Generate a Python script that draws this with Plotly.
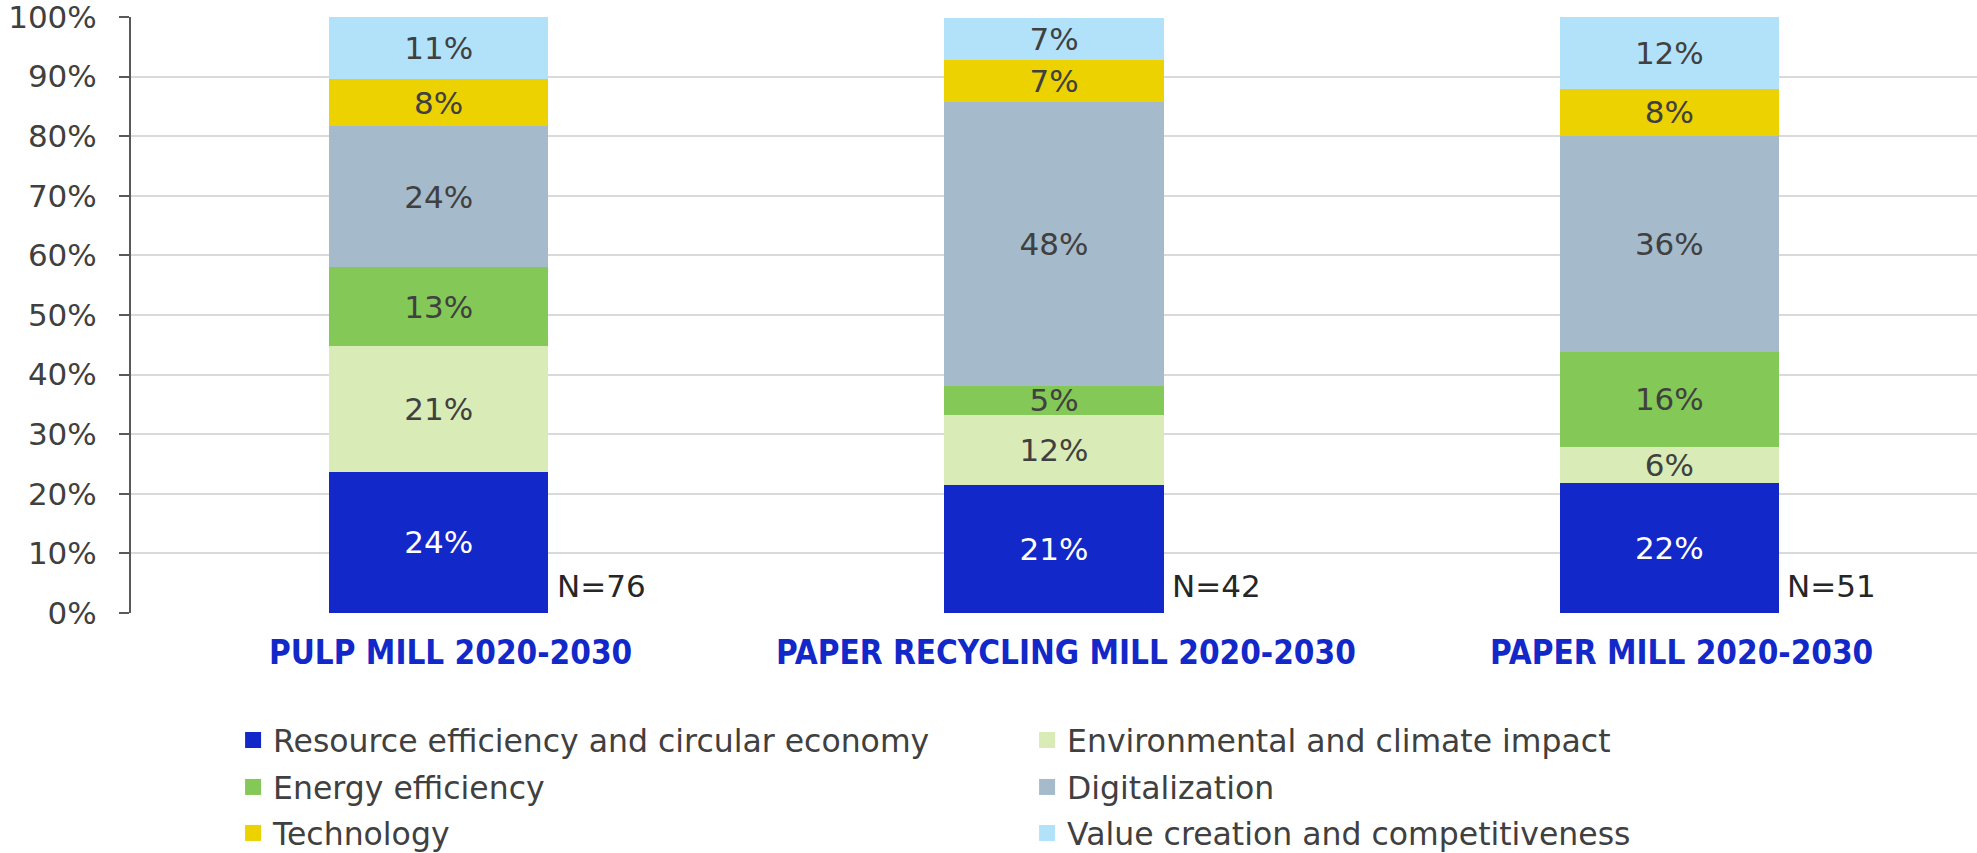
import plotly.graph_objects as go

categories = ["PULP MILL 2020-2030", "PAPER RECYCLING MILL 2020-2030", "PAPER MILL 2020-2030"]
n_labels = ["N=76", "N=42", "N=51"]

series_names = [
    "Resource efficiency and circular economy",
    "Environmental and climate impact",
    "Energy efficiency",
    "Digitalization",
    "Technology",
    "Value creation and competitiveness",
]
resource = [23.7, 21.4, 21.8]
environmental = [21.1, 11.9, 6.1]
energy = [13.2, 4.8, 15.9]
digitalization = [23.7, 47.6, 36.3]
technology = [7.9, 7.1, 7.9]
value_creation = [10.5, 7.1, 12.0]
series_values = [resource, environmental, energy, digitalization, technology, value_creation]

colors = ["#1228C8", "#D9EBB6", "#84C857", "#A5BACA", "#ECD200", "#B2E2FA"]
text_colors = ["#FFFFFF", "#404040", "#404040", "#404040", "#404040", "#404040"]
legend_ids = ["legend", "legend", "legend2", "legend2", "legend3", "legend3"]

FONT = "DejaVu Sans"
GRAY = "#404040"
BLUE = "#1228C8"

fig = go.Figure()
for name, vals, col, tcol in zip(series_names, series_values, colors, text_colors):
    fig.add_trace(go.Bar(
        x=categories, y=vals, name=name, marker=dict(color=col, line=dict(width=0)),
        text=vals, texttemplate="%{y:.0f}%", textposition="inside",
        insidetextanchor="middle", textangle=0, constraintext="none",
        insidetextfont=dict(family=FONT, size=31, color=tcol),
        showlegend=False, hoverinfo="skip",
    ))

for name, col, lg in zip(series_names, colors, legend_ids):
    fig.add_trace(go.Scatter(
        x=[None], y=[None], mode="markers", name=name, legend=lg,
        marker=dict(symbol="square", size=20, color=col),
    ))

for cat, nl in zip(categories, n_labels):
    fig.add_annotation(x=cat, y=4.6, text=nl, showarrow=False, xanchor="left",
                       yanchor="middle", xshift=116,
                       font=dict(family=FONT, size=31, color="#262626"))
    # category label (slightly right of bar centre, as in the original)
    fig.add_annotation(x=cat, y=0, yref="paper", text=cat, showarrow=False,
                       xanchor="center", yanchor="middle", xshift=12, yshift=-39,
                       font=dict(family="DejaVu Sans Condensed, DejaVu Sans", size=33,
                                 color=BLUE, weight="bold"))

leg_common = dict(orientation="h", xanchor="left", yanchor="middle",
                  traceorder="normal",
                  font=dict(family=FONT, size=31.5, color=GRAY),
                  entrywidth=749, itemclick=False, bgcolor="rgba(0,0,0,0)")

fig.update_layout(
    width=1977, height=853,
    barmode="stack", bargap=0.644,
    plot_bgcolor="white", paper_bgcolor="white",
    margin=dict(l=131, r=0, t=17, b=240, autoexpand=False),
    font=dict(family=FONT, color=GRAY),
    legend=dict(x=0.0553, y=-0.2131, **leg_common),
    legend2=dict(x=0.0553, y=-0.2919, **leg_common),
    legend3=dict(x=0.0553, y=-0.3691, **leg_common),
    xaxis=dict(
        type="category", showline=False, ticks="", showgrid=False,
        showticklabels=False,
    ),
    yaxis=dict(
        range=[0, 100], dtick=10, ticksuffix="%",
        showgrid=True, gridcolor="#DADADA", gridwidth=2,
        zeroline=False,
        showline=True, linecolor="#595959", linewidth=2,
        ticks="outside", ticklen=10, tickcolor="#595959", tickwidth=2,
        tickfont=dict(family=FONT, size=31, color=GRAY),
        ticklabelstandoff=16, ticklabeloverflow="allow",
    ),
)

fig.write_html("out.html", config={"displayModeBar": False},
               post_script="document.body.style.margin='0';")
